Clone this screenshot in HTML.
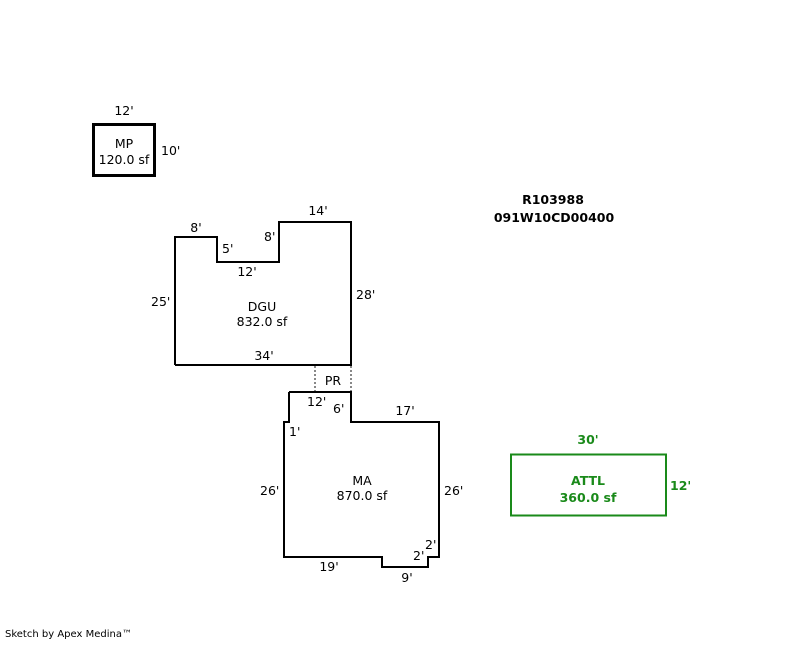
<!DOCTYPE html>
<html><head><style>
body{margin:0;background:#fff;}
svg text{font-family:"DejaVu Sans","Liberation Sans",sans-serif;font-size:12.5px;fill:#000;}
</style></head><body>
<svg width="800" height="640" viewBox="0 0 800 640" xmlns="http://www.w3.org/2000/svg">
<rect x="93.5" y="124.5" width="61" height="51" fill="none" stroke="#000" stroke-width="3"/>
<text x="124" y="115" text-anchor="middle">12'</text>
<text x="161" y="155">10'</text>
<text x="124" y="148" text-anchor="middle">MP</text>
<text x="124" y="164" text-anchor="middle">120.0 sf</text>

<polyline points="175,365 175,237 217,237 217,262 279,262 279,222 351,222 351,365 175,365" fill="none" stroke="#000" stroke-width="2"/>
<text x="196" y="232" text-anchor="middle">8'</text>
<text x="222" y="253">5'</text>
<text x="264" y="241">8'</text>
<text x="318" y="215" text-anchor="middle">14'</text>
<text x="247" y="276" text-anchor="middle">12'</text>
<text x="151" y="306">25'</text>
<text x="356" y="299">28'</text>
<text x="264" y="360" text-anchor="middle">34'</text>
<text x="262" y="311" text-anchor="middle">DGU</text>
<text x="262" y="326" text-anchor="middle">832.0 sf</text>

<line x1="315" y1="366" x2="315" y2="392" stroke="#888" stroke-width="2" stroke-dasharray="2,2"/>
<line x1="351" y1="366" x2="351" y2="392" stroke="#888" stroke-width="2" stroke-dasharray="2,2"/>
<text x="333" y="385" text-anchor="middle">PR</text>

<polyline points="289,392 351,392 351,422 439,422 439,557 428,557 428,567 382,567 382,557 284,557 284,422 289,422 289,392" fill="none" stroke="#000" stroke-width="2"/>
<text x="307" y="406">12'</text>
<text x="333" y="413">6'</text>
<text x="405" y="415" text-anchor="middle">17'</text>
<text x="289" y="436">1'</text>
<text x="260" y="495">26'</text>
<text x="444" y="495">26'</text>
<text x="362" y="485" text-anchor="middle">MA</text>
<text x="362" y="500" text-anchor="middle">870.0 sf</text>
<text x="329" y="571" text-anchor="middle">19'</text>
<text x="407" y="582" text-anchor="middle">9'</text>
<text x="413" y="560">2'</text>
<text x="425" y="549">2'</text>

<rect x="511" y="454.5" width="155" height="61" fill="none" stroke="#1a8a1a" stroke-width="2"/>
<text x="588" y="444" text-anchor="middle" style="fill:#1a8a1a;font-weight:bold">30'</text>
<text x="670" y="490" style="fill:#1a8a1a;font-weight:bold">12'</text>
<text x="588" y="485" text-anchor="middle" style="fill:#1a8a1a;font-weight:bold">ATTL</text>
<text x="588" y="502" text-anchor="middle" style="fill:#1a8a1a;font-weight:bold">360.0 sf</text>

<text x="553" y="204" text-anchor="middle" style="font-weight:bold">R103988</text>
<text x="554" y="222" text-anchor="middle" style="font-weight:bold">091W10CD00400</text>

<text x="5" y="637" style="font-size:10px">Sketch by Apex Medina™</text>
</svg>
</body></html>
